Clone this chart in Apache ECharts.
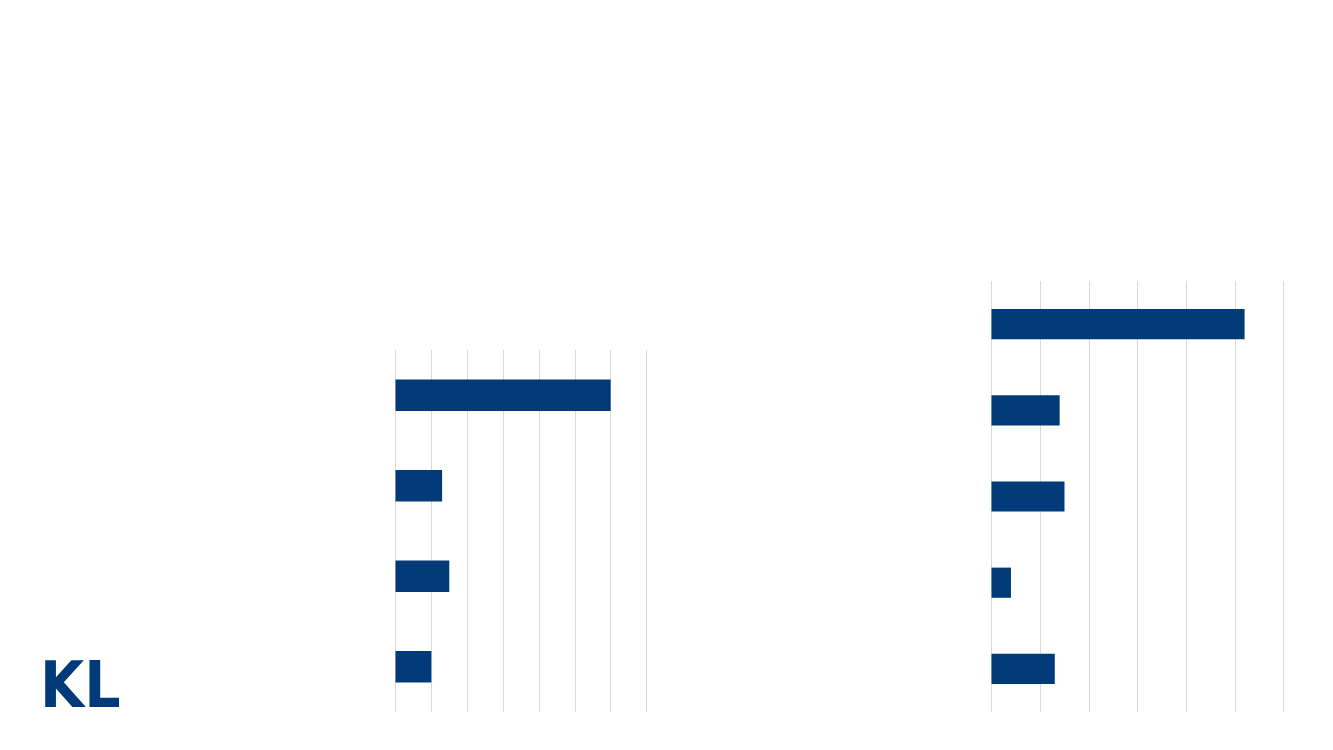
<!DOCTYPE html>
<html>
<head>
<meta charset="utf-8">
<script src="https://cdn.jsdelivr.net/npm/echarts@6/dist/echarts.min.js"></script>
<style>
  html, body { margin: 0; padding: 0; background: #ffffff; }
  #chart { width: 1333px; height: 750px; }
</style>
</head>
<body>
<div id="chart"></div>
<script>
// Data (no labels are shown in the reference; categories are placeholders)
const leftCategories = ["Kategori 1", "Kategori 2", "Kategori 3", "Kategori 4"];
const leftValues = [6.0, 1.3, 1.5, 1.0];
const leftAxisMax = 7;

const rightCategories = ["Kategori 1", "Kategori 2", "Kategori 3", "Kategori 4", "Kategori 5"];
const rightValues = [5.2, 1.4, 1.5, 0.4, 1.3];
const rightAxisMax = 6;

const logoText = "KL";

const BLUE = "#003A78";
const GRID_GREY = "#d9d9d9";

const chart = echarts.init(document.getElementById("chart"), null, { renderer: "canvas" });

function valueAxis(gridIndex, max) {
  return {
    type: "value", gridIndex: gridIndex, min: 0, max: max, interval: 1,
    axisLabel: { show: false }, axisTick: { show: false }, axisLine: { show: false },
    splitLine: { show: true, lineStyle: { color: GRID_GREY, width: 1 } }
  };
}
function catAxis(gridIndex, cats) {
  return {
    type: "category", gridIndex: gridIndex, data: cats, inverse: true,
    axisLabel: { show: false }, axisTick: { show: false }, axisLine: { show: false },
    splitLine: { show: false }
  };
}

chart.setOption({
  animation: false,
  backgroundColor: "#ffffff",
  grid: [
    { left: 395.5, top: 350, width: 251, height: 362 },
    { left: 991.5, top: 281, width: 292, height: 431 }
  ],
  xAxis: [valueAxis(0, leftAxisMax), valueAxis(1, rightAxisMax)],
  yAxis: [catAxis(0, leftCategories), catAxis(1, rightCategories)],
  series: [
    { type: "bar", xAxisIndex: 0, yAxisIndex: 0, data: leftValues, barWidth: "35%",
      itemStyle: { color: BLUE } },
    { type: "bar", xAxisIndex: 1, yAxisIndex: 1, data: rightValues, barWidth: "35%",
      itemStyle: { color: BLUE } }
  ],
  graphic: [
    {
      type: "text", left: 40, top: 658, scaleX: 0.89,
      style: {
        text: logoText, fill: BLUE,
        font: "bold 64px 'DejaVu Sans', sans-serif"
      }
    }
  ]
});
</script>
</body>
</html>
